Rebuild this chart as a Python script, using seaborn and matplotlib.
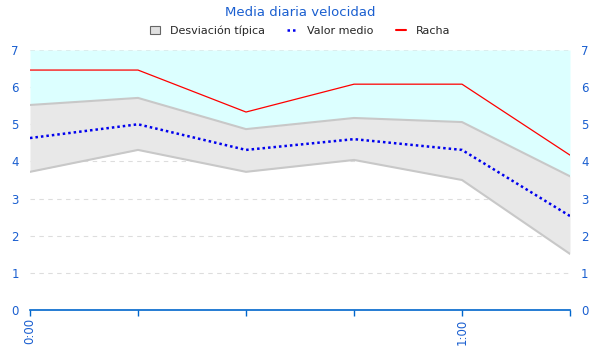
import pandas as pd
import matplotlib
matplotlib.use('Agg')
import matplotlib.pyplot as plt
import seaborn as sns
from matplotlib.patches import Patch
from matplotlib.lines import Line2D

# Minutes since 0:00, 10-minute steps
minutes = [0, 10, 20, 30, 40, 50]
racha = [6.46, 6.46, 5.33, 6.08, 6.08, 4.17]
valor_medio = [4.63, 5.0, 4.31, 4.6, 4.31, 2.53]
std_upper = [5.52, 5.71, 4.87, 5.17, 5.06, 3.6]
std_lower = [3.72, 4.31, 3.72, 4.04, 3.5, 1.51]
y_ticks = [0, 1, 2, 3, 4, 5, 6, 7]
x_tick_labels = {0: '0:00', 40: '1:00'}

df = pd.DataFrame({'min': minutes, 'racha': racha, 'media': valor_medio,
                   'sup': std_upper, 'inf': std_lower})

sns.set_theme(style="white")
plt.rcParams['font.family'] = ['DejaVu Sans']

blue_txt = '#1a5fd0'
fig = plt.figure(figsize=(6, 3.6), dpi=100)
ax = fig.add_axes([0.05, 0.1389, 0.90, 0.7222])

# background above the band, then the std band
ax.fill_between(df['min'], df['sup'], 7, color='#dcffff', lw=0, zorder=1)
ax.fill_between(df['min'], df['inf'], df['sup'], color='#e8e8e8', lw=0, zorder=1)
sns.lineplot(data=df, x='min', y='sup', color='#c8c8c8', lw=1.5, ax=ax, zorder=2)
sns.lineplot(data=df, x='min', y='inf', color='#c8c8c8', lw=1.5, ax=ax, zorder=2)
sns.lineplot(data=df, x='min', y='media', color='#0000ee', lw=1.8,
             linestyle=(0, (1.0, 1.2)), ax=ax, zorder=3)
sns.lineplot(data=df, x='min', y='racha', color='red', lw=0.9, ax=ax, zorder=3)

ax.set_xlim(0, 50)
ax.set_ylim(0, 7)
ax.set_yticks(y_ticks)
ax.yaxis.grid(True, color='#dddddd', linestyle=(0, (4, 4)), lw=0.8)
for g in ax.get_ygridlines():
    g.set_zorder(1.5)
ax.set_xticks(minutes)
ax.set_xticklabels([x_tick_labels.get(m, '') for m in minutes], rotation=90,
                   color=blue_txt, fontsize=8.5)
ax.tick_params(axis='x', direction='out', length=4, width=1, color='#0066cc',
               bottom=True, pad=2)
ax.tick_params(axis='y', length=0, labelsize=8.5, labelcolor=blue_txt,
               left=False, right=False, labelleft=True, labelright=True, pad=8)
for s in ['top', 'left', 'right']:
    ax.spines[s].set_visible(False)
ax.spines['bottom'].set_color('#0066cc')
ax.spines['bottom'].set_linewidth(1.2)
ax.set_xlabel('')
ax.set_ylabel('')

fig.text(0.5, 0.965, 'Media diaria velocidad', ha='center', va='center',
         color=blue_txt, fontsize=9.5)
handles = [Patch(facecolor='#e0e0e0', edgecolor='#666666', lw=0.8),
           Line2D([], [], color='#0000ee', lw=1.8, linestyle=(0, (1.0, 1.2))),
           Line2D([], [], color='red', lw=1.5)]
fig.legend(handles, ['Desviación típica', 'Valor medio', 'Racha'],
           loc='center', bbox_to_anchor=(0.5, 0.915), ncol=3, frameon=False,
           fontsize=8, handlelength=0.9, handleheight=0.8, columnspacing=2.0,
           handletextpad=0.9)

fig.savefig('out.png', dpi=100, facecolor='white')
